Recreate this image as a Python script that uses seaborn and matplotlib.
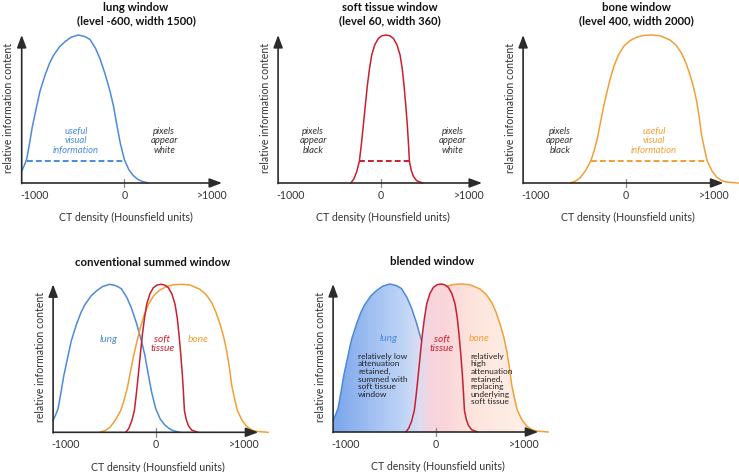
import numpy as np
import matplotlib
matplotlib.use("Agg")
import matplotlib.pyplot as plt
from matplotlib.colors import LinearSegmentedColormap, Normalize
from matplotlib.patches import Polygon
import seaborn as sns

# curves: CT density (HU) vs relative information content
lung_hu = np.array([-1141, -1110, -1085, -1055, -1022, -980, -937, -880, -830, -789,
                    -720, -659, -590, -511, -440, -381, -320, -270, -215, -159,
                    -120, -85, -45, 0, 50, 100, 150, 200, 267])
lung_rel = np.array([0.08, 0.12, 0.16, 0.26, 0.38, 0.50, 0.62, 0.73, 0.81, 0.86,
                     0.92, 0.955, 0.985, 1.0, 0.99, 0.97, 0.91, 0.84, 0.74, 0.62,
                     0.52, 0.40, 0.27, 0.16, 0.09, 0.05, 0.025, 0.01, 0.0])

soft_hu = np.array([-333, -300, -267, -237, -215, -193, -170, -148, -125, -100,
                    -65, -26, 15, 59, 100, 141, 180, 215, 240, 259,
                    278, 296, 309, 319, 340, 363, 400, 467])
soft_rel = np.array([0.0, 0.025, 0.075, 0.147, 0.26, 0.39, 0.53, 0.66, 0.77, 0.865,
                     0.935, 0.977, 0.995, 1.0, 0.995, 0.977, 0.935, 0.865, 0.77, 0.66,
                     0.53, 0.39, 0.26, 0.147, 0.085, 0.045, 0.015, 0.0])

bone_hu = np.array([-619, -560, -507, -450, -389, -350, -315, -280, -248, -210,
                    -174, -130, -81, -20, 48, 120, 200, 289, 380, 440,
                    493, 560, 622, 670, 715, 755, 789, 818, 844, 875,
                    907, 960, 1011, 1070, 1122, 1252])
bone_rel = np.array([0.0, 0.012, 0.035, 0.08, 0.147, 0.22, 0.30, 0.41, 0.51, 0.61,
                     0.70, 0.79, 0.865, 0.925, 0.962, 0.985, 0.997, 1.0, 0.995, 0.98,
                     0.966, 0.93, 0.876, 0.81, 0.73, 0.645, 0.55, 0.44, 0.32, 0.23,
                     0.147, 0.08, 0.04, 0.015, 0.006, 0.0])

# "useful visual information" ranges (dashed lines)
useful_lung = [-1085, 7]
useful_soft = [-237, 319]
useful_bone = [-389, 907]
useful_level = 0.147

tick_labels = ["-1000", "0", ">1000"]
tick_pos = [-1000, 0, 980]

titles_top = [("lung window", "(level -600, width 1500)"),
              ("soft tissue window", "(level 60, width 360)"),
              ("bone window", "(level 400, width 2000)")]
titles_bottom = ["conventional summed window", "blended window"]

LUNG_C = "#4b8bd9"
SOFT_C = "#c8202f"
BONE_C = "#f0a035"
AX_C = "#2b2b2b"
TXT_C = "#333333"

sns.set_theme(style="white")
plt.rcParams['font.family'] = ['Lato', 'DejaVu Sans']

W, H = 739, 472
fig = plt.figure(figsize=(W / 100, H / 100), dpi=100)
fig.patch.set_facecolor("white")

X0, X1 = -1140, 1300
PX = 0.09  # pixels per HU


def make_ax(zero_px, base_px):
    left = zero_px + X0 * PX
    ax = fig.add_axes([left / W, (H - base_px) / H, (X1 - X0) * PX / W, 148 / H])
    return ax


def curve(ax, hu, rel, color):
    sns.lineplot(x=hu, y=rel, ax=ax, color=color, lw=1.1, sort=False, estimator=None)


def frame(ax, xtip):
    kw = dict(arrowstyle='-|>,head_length=0.75,head_width=0.28', color=AX_C, lw=1.2,
              shrinkA=0, shrinkB=0, mutation_scale=10)
    ax.annotate('', xy=(X0, 1.0), xytext=(X0, -0.004), arrowprops=kw, annotation_clip=False)
    ax.annotate('', xy=(xtip, 0), xytext=(X0, 0), arrowprops=kw, annotation_clip=False)
    ax.plot([0, 0], [-0.03, 0.03], color="#888888", lw=0.9, clip_on=False)
    for t, p in zip(tick_labels, tick_pos):
        ax.text(p, -0.085, t, ha='center', va='center', fontsize=7.6, color=TXT_C, clip_on=False)
    ax.text(20, -0.235, "CT density (Hounsfield units)", ha='center', va='center',
            fontsize=7.6, color=TXT_C, clip_on=False)
    ax.text(-1285, 0.51, "relative information content", rotation=90, ha='center', va='center',
            fontsize=7.6, color=TXT_C, clip_on=False)


def finish(ax):
    ax.set_xlim(X0, X1)
    ax.set_ylim(0, 1)
    ax.set_axis_off()
    for ln in ax.lines:
        ln.set_clip_on(False)


def dashed(ax, rng, color):
    ax.plot(rng, [useful_level, useful_level], color=color, lw=1.4, dashes=(3, 1.6), clip_on=False)


def three(ax, x, s, color):
    ax.text(x, 0.286, s, ha='center', va='center', fontsize=6.8, style='italic', color=color,
            linespacing=1.08)


# top row
tops = [(124.3, 1086, 130), (380.7, 1126, 100), (625.7, 1086, 120)]
axes_top = [make_ax(z, 183) for z, _, _ in tops]
for ax, (z, tip, tx), (t1, t2) in zip(axes_top, tops, titles_top):
    frame(ax, tip)
    ax.text(tx, 1.186, t1, ha='center', va='center', fontsize=8.2, weight='bold', color="#111")
    ax.text(tx, 1.10, t2, ha='center', va='center', fontsize=8.0, weight='bold', color="#111")

ax = axes_top[0]
curve(ax, lung_hu, lung_rel, LUNG_C)
dashed(ax, useful_lung, LUNG_C)
three(ax, -537, "useful\nvisual\ninformation", LUNG_C)
three(ax, 444, "pixels\nappear\nwhite", TXT_C)

ax = axes_top[1]
curve(ax, soft_hu, soft_rel, SOFT_C)
dashed(ax, useful_soft, SOFT_C)
three(ax, -749, "pixels\nappear\nblack", TXT_C)
three(ax, 800, "pixels\nappear\nwhite", TXT_C)

ax = axes_top[2]
curve(ax, bone_hu, bone_rel, BONE_C)
dashed(ax, useful_bone, BONE_C)
three(ax, -730, "pixels\nappear\nblack", TXT_C)
three(ax, 315, "useful\nvisual\ninformation", BONE_C)

for ax in axes_top:
    finish(ax)

# bottom row
bots = [(155.7, 432.3, 1140), (435.7, 432.0, 1140)]
axes_bot = [make_ax(z, b) for z, b, _ in bots]
for ax, (z, b, tip), t in zip(axes_bot, bots, titles_bottom):
    frame(ax, tip)
    ax.text(-37, 1.149, t, ha='center', va='center', fontsize=8.2, weight='bold', color="#111")

# conventional summed window
ax = axes_bot[0]
curve(ax, lung_hu, lung_rel, LUNG_C)
curve(ax, bone_hu, bone_rel, BONE_C)
curve(ax, soft_hu, soft_rel, SOFT_C)
ax.text(-527, 0.63, "lung", ha='center', va='center', fontsize=7.3, style='italic', color=LUNG_C)
ax.text(73, 0.595, "soft\ntissue", ha='center', va='center', fontsize=7.3, style='italic',
        color=SOFT_C, linespacing=1.0)
ax.text(473, 0.63, "bone", ha='center', va='center', fontsize=7.3, style='italic', color=BONE_C)

# blended window
ax = axes_bot[1]
m_l = lung_hu < -152
m_s = (soft_hu >= -152) & (soft_hu <= 110)
m_b = bone_hu > 110
env_hu = np.concatenate([lung_hu[m_l], soft_hu[m_s], bone_hu[m_b]])
env_rel = np.concatenate([lung_rel[m_l], soft_rel[m_s], bone_rel[m_b]])
poly_xy = np.column_stack([np.r_[env_hu[0], env_hu, env_hu[-1]], np.r_[0, env_rel, 0]])
patch = Polygon(poly_xy, closed=True, facecolor='none', edgecolor='none', transform=ax.transData)
ax.add_patch(patch)

stops = [(-1140, "#7aa6ec"), (-700, "#a2c0f2"), (-330, "#c2d7f7"), (-190, "#dcdcf2"),
         (-60, "#f7d4dc"), (120, "#fad6da"), (400, "#fde5dd"), (1300, "#fff5ec")]
cmap = LinearSegmentedColormap.from_list(
    "blend", [((h - X0) / (X1 - X0), c) for h, c in stops])
grad = np.linspace(X0, X1, 600)[None, :]
img = ax.imshow(grad, extent=[X0, X1, 0, 1], aspect='auto', cmap=cmap,
                norm=Normalize(X0, X1), zorder=0, interpolation='bilinear')
img.set_clip_path(patch)

curve(ax, lung_hu[m_l], lung_rel[m_l], LUNG_C)
curve(ax, bone_hu[m_b], bone_rel[m_b], BONE_C)
curve(ax, soft_hu, soft_rel, SOFT_C)
ax.text(-519, 0.63, "lung", ha='center', va='center', fontsize=7.3, style='italic', color=LUNG_C)
ax.text(67, 0.595, "soft\ntissue", ha='center', va='center', fontsize=7.3, style='italic',
        color=SOFT_C, linespacing=1.0)
ax.text(481, 0.63, "bone", ha='center', va='center', fontsize=7.3, style='italic', color=BONE_C)
ax.text(-863, 0.535, "relatively low\nattenuation\nretained,\nsummed with\nsoft tissue\nwindow",
        ha='left', va='top', fontsize=6.0, color="#222", linespacing=1.1)
ax.text(389, 0.535, "relatively\nhigh\nattenuation\nretained,\nreplacing\nunderlying\nsoft tissue",
        ha='left', va='top', fontsize=6.0, color="#222", linespacing=1.1)

for ax in axes_bot:
    finish(ax)

fig.savefig("out.png", dpi=100, facecolor="white")
